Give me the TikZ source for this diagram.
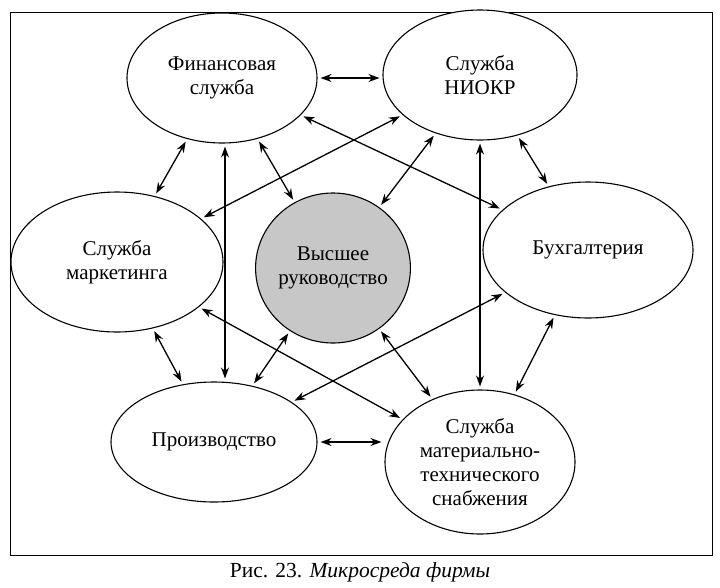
\documentclass[tikz,border=0pt]{standalone}
\usepackage{fontspec}
\setmainfont{Liberation Serif}
\usetikzlibrary{shapes.geometric,arrows.meta}
\begin{document}
\begin{tikzpicture}[x=1pt,y=-1pt,
  el/.style={ellipse,draw,line width=1.1pt,inner sep=0pt,align=center,fill=white,
    font=\fontsize{21}{24}\selectfont},
  ar/.style={<->,>={Stealth[length=11pt,width=8pt]},line width=1.3pt,shorten >=3pt,shorten <=3pt}]
\useasboundingbox (0,0) rectangle (720,587);
\draw[line width=1pt] (10,12) rectangle (712,555);
\node[el,minimum width=190,minimum height=130] (fin) at (222,78) {Финансовая\\служба};
\node[el,minimum width=194,minimum height=130] (nio) at (480,75) {Служба\\НИОКР};
\node[el,minimum width=212,minimum height=140] (mar) at (117,262) {Служба\\маркетинга};
\node[el,minimum width=154,minimum height=150,fill=black!22] (top) at (333,268) {Высшее\\руководство};
\node[el,minimum width=210,minimum height=136] (buh) at (588,250) {Бухгалтерия};
\node[el,minimum width=206,minimum height=120] (pro) at (214,442) {Производство};
\node[el,minimum width=190,minimum height=144] (mts) at (480,462) {Служба\\материально-\\технического\\снабжения};
\draw[ar] (fin.east) -- (nio.west |- fin.east);
\draw[ar] (fin) -- (mar);
\draw[ar] (nio) -- (buh);
\draw[ar] (fin) -- (top);
\draw[ar] (nio) -- (top);
\draw[ar] ([xshift=3]fin.south) -- ([xshift=11]pro.north);
\draw[ar] (nio.south) -- (mts.north);
\draw[ar] (nio) -- (mar);
\draw[ar] (fin) -- (buh);
\draw[ar] (mar) -- (pro);
\draw[ar] (mar) -- (mts);
\draw[ar] (buh) -- (pro);
\draw[ar] (buh) -- (mts);
\draw[ar] (top) -- (pro);
\draw[ar] (top) -- (mts);
\draw[ar] (pro.east) -- (mts.west |- pro.east);
\node[font=\fontsize{21.5}{24}\selectfont] (cap) at (360,572) {Рис. 23. \textit{Микросреда фирмы}};
\end{tikzpicture}
\end{document}
